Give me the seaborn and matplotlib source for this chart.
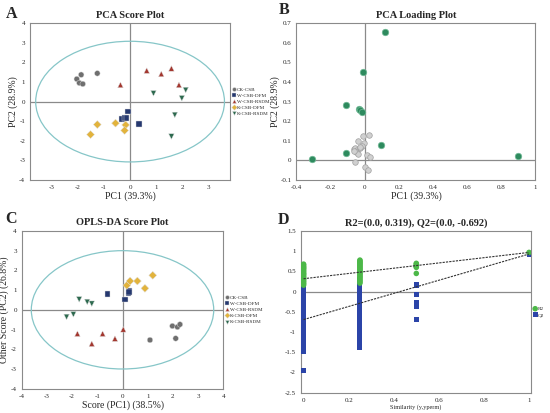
""" Recreates the PCA / OPLS-DA multi-panel figure. """

import matplotlib as mpl
mpl.use("Agg")
import matplotlib.pyplot as plt
from matplotlib.patches import Ellipse
from matplotlib.ticker import FuncFormatter
import numpy as np
import pandas as pd
import seaborn as sns

# ---- data -------------------------------------------------------------
groups = ["CK-CSB", "W-CSB-DFM", "W-CSB-RSDM", "K-CSB-DFM", "K-CSB-RSDM"]

# Panel A: PCA scores (5 samples per group)
pca_pc1 = {
    "CK-CSB": [-2.05, -1.88, -1.95, -1.82, -1.26],
    "W-CSB-DFM": [-0.07, -0.30, -0.21, -0.13, 0.34],
    "W-CSB-RSDM": [-0.37, 0.64, 1.20, 1.59, 1.88],
    "K-CSB-DFM": [-1.52, -1.26, -0.56, -0.17, -0.21],
    "K-CSB-RSDM": [0.90, 2.14, 1.99, 1.72, 1.59],
}
pca_pc2 = {
    "CK-CSB": [1.15, 1.37, 0.95, 0.90, 1.44],
    "W-CSB-DFM": [-0.51, -0.88, -0.83, -0.85, -1.14],
    "W-CSB-RSDM": [0.85, 1.58, 1.41, 1.69, 0.85],
    "K-CSB-DFM": [-1.68, -1.17, -1.10, -1.19, -1.47],
    "K-CSB-RSDM": [0.42, 0.59, 0.17, -0.68, -1.78],
}

# Panel B: PCA loadings
load_sig_x = [0.12, -0.01, -0.11, -0.035, -0.025, -0.015, 0.095, -0.11, -0.31, 0.90]
load_sig_y = [0.655, 0.452, 0.282, 0.262, 0.255, 0.249, 0.078, 0.040, 0.005, 0.022]
load_other_x = [0.025, -0.01, -0.04, -0.005, -0.015, -0.065, -0.055, -0.045, -0.03,
                -0.05, -0.04, -0.025, 0.015, 0.03, -0.055, 0.0, 0.02, -0.06]
load_other_y = [0.130, 0.125, 0.100, 0.090, 0.075, 0.060, 0.062, 0.055, 0.065,
                0.045, 0.035, 0.070, 0.028, 0.018, -0.010, -0.035, -0.048, 0.050]

# Panel C: OPLS-DA scores
opls_t1 = {
    "CK-CSB": [1.09, 2.11, 1.98, 2.18, 2.28],
    "W-CSB-DFM": [-0.59, 0.10, 0.23, 0.27, 0.25],
    "W-CSB-RSDM": [-1.79, -1.22, -0.79, -0.30, 0.03],
    "K-CSB-DFM": [0.17, 0.30, 0.59, 0.89, 1.20],
    "K-CSB-RSDM": [-2.22, -1.95, -1.72, -1.40, -1.22],
}
opls_to = {
    "CK-CSB": [-1.53, -1.45, -0.82, -0.87, -0.74],
    "W-CSB-DFM": [0.79, 0.53, 0.84, 0.96, 0.90],
    "W-CSB-RSDM": [-1.21, -1.72, -1.21, -1.46, -0.99],
    "K-CSB-DFM": [1.24, 1.46, 1.46, 1.09, 1.75],
    "K-CSB-RSDM": [-0.36, -0.23, 0.53, 0.40, 0.31],
}

# Panel D: permutation test
perm_r2 = {
    0.0: [0.68, 0.66, 0.63, 0.61, 0.59, 0.57, 0.55, 0.52, 0.50, 0.47, 0.45, 0.43,
          0.41, 0.38, 0.36, 0.33, 0.31, 0.29, 0.26, 0.24, 0.21, 0.19, 0.16],
    0.25: [0.78, 0.76, 0.73, 0.71, 0.69, 0.66, 0.64, 0.61, 0.59, 0.56, 0.54, 0.51,
           0.49, 0.46, 0.44, 0.41, 0.38, 0.36, 0.33, 0.30, 0.27, 0.24, 0.21],
    0.5: [0.70, 0.68, 0.65, 0.62, 0.60, 0.45],
    1.0: [0.97],
}
perm_q2 = {
    0.0: [0.12, 0.05, -0.03, -0.10, -0.18, -0.25, -0.33, -0.40, -0.47, -0.55,
          -0.62, -0.70, -0.77, -0.85, -0.92, -1.00, -1.07, -1.14, -1.20,
          -1.33, -1.38, -1.43, -1.49, -1.95],
    0.25: [0.30, 0.23, 0.16, 0.09, 0.02, -0.06, -0.13, -0.20, -0.28, -0.35,
           -0.42, -0.50, -0.57, -0.64, -0.72, -0.79, -0.86, -0.94, -1.01,
           -1.08, -1.16, -1.23, -1.30, -1.37],
    0.5: [0.18, 0.14, -0.07, -0.27, -0.38, -0.69],
    1.0: [0.93],
}
r2_intercept = 0.319
q2_intercept = -0.692

palette = {"CK-CSB": "#6f6f6f", "W-CSB-DFM": "#25386f", "W-CSB-RSDM": "#a3372f",
           "K-CSB-DFM": "#e2b33c", "K-CSB-RSDM": "#2d6a4f"}
markers = {"CK-CSB": "o", "W-CSB-DFM": "s", "W-CSB-RSDM": "^",
           "K-CSB-DFM": "D", "K-CSB-RSDM": "v"}


def to_frame(xs, ys):
    rows = []
    for g in groups:
        for x, y in zip(xs[g], ys[g]):
            rows.append({"x": x, "y": y, "group": g})
    return pd.DataFrame.from_records(rows)


def style_axes(ax, xlim, ylim, xticks, yticks, vline=True):
    ax.set_xlim(*xlim)
    ax.set_ylim(*ylim)
    ax.set_xticks(xticks)
    ax.set_yticks(yticks)
    fmt = FuncFormatter(lambda v, _: f"{v:g}")
    ax.xaxis.set_major_formatter(fmt)
    ax.yaxis.set_major_formatter(fmt)
    ax.tick_params(labelsize=5, length=2, width=0.6, color="#808080", pad=1.5)
    for s in ax.spines.values():
        s.set_color("#8a8a8a")
        s.set_linewidth(0.8)
    ax.axhline(0, color="#8a8a8a", lw=0.9, zorder=0)
    if vline:
        ax.axvline(0, color="#8a8a8a", lw=0.9, zorder=0)


def small_legend(ax, handles=None, labels=None, markerscale=0.7):
    kw = dict(loc="center left", bbox_to_anchor=(1.0, 0.5), frameon=False,
              fontsize=3.7, markerscale=markerscale, handletextpad=0.05,
              labelspacing=0.3, borderpad=0.1, borderaxespad=0.2, handlelength=0.9)
    if handles is None:
        sns.move_legend(ax, title=None, **kw)
    else:
        ax.legend(handles, labels, **kw)


def score_panel(ax, df, ell_w, ell_h):
    sns.scatterplot(data=df, x="x", y="y", hue="group", style="group",
                    palette=palette, markers=markers, hue_order=groups,
                    style_order=groups, s=16, linewidth=0.3, edgecolor="#dddddd",
                    ax=ax, zorder=3)
    ax.add_patch(Ellipse((0, 0), ell_w, ell_h, fill=False,
                         edgecolor="#86c6c8", lw=0.9, zorder=1))
    small_legend(ax)


def main():
    sns.set_style("white")
    plt.rcParams["font.family"] = ["Liberation Serif", "DejaVu Serif"]
    plt.rcParams["axes.unicode_minus"] = False

    fig = plt.figure(figsize=(5.5, 4.13), dpi=100)

    # ---- A
    ax_a = fig.add_axes([0.0545, 0.564, 0.364, 0.380])
    score_panel(ax_a, to_frame(pca_pc1, pca_pc2), 7.26, 6.15)
    style_axes(ax_a, (-3.85, 3.85), (-4, 4), range(-3, 4), range(-4, 5))
    ax_a.set_xlabel("PC1 (39.3%)", fontsize=7, labelpad=1)
    ax_a.set_ylabel("PC2 (28.9%)", fontsize=7, labelpad=1)
    ax_a.set_title("PCA Score Plot", fontsize=7.5, fontweight="bold", pad=4)

    # ---- B
    ax_b = fig.add_axes([0.539, 0.564, 0.4345, 0.380])
    sns.scatterplot(x=load_other_x, y=load_other_y, color="#d0d0d0", edgecolor="#a0a0a0",
                    linewidth=0.5, s=16, ax=ax_b, zorder=3)
    sns.scatterplot(x=load_sig_x, y=load_sig_y, color="#2e8a5e", edgecolor="#6fb995",
                    linewidth=0.5, s=22, ax=ax_b, zorder=4)
    style_axes(ax_b, (-0.4, 1.0), (-0.1, 0.7), np.arange(-0.4, 1.01, 0.2),
               np.arange(-0.1, 0.71, 0.1))
    ax_b.set_xlabel("PC1 (39.3%)", fontsize=7, labelpad=1)
    ax_b.set_ylabel("PC2 (28.9%)", fontsize=7, labelpad=0)
    ax_b.set_title("PCA Loading Plot", fontsize=7.5, fontweight="bold", pad=4)

    # ---- C
    ax_c = fig.add_axes([0.0395, 0.0588, 0.3665, 0.382])
    score_panel(ax_c, to_frame(opls_t1, opls_to), 7.24, 6.0)
    style_axes(ax_c, (-4, 4), (-4, 4), range(-4, 5), range(-4, 5))
    ax_c.set_xlabel("Score (PC1) (38.5%)", fontsize=7, labelpad=1)
    ax_c.set_ylabel("Other Score (PC2) (26.8%)", fontsize=7, labelpad=1)
    ax_c.set_title("OPLS-DA Score Plot", fontsize=7.5, fontweight="bold", pad=4)

    # ---- D
    ax_d = fig.add_axes([0.547, 0.0492, 0.419, 0.3915])
    r2 = pd.DataFrame([(k, v) for k, vals in perm_r2.items() for v in vals], columns=["x", "y"])
    q2 = pd.DataFrame([(k, v) for k, vals in perm_q2.items() for v in vals], columns=["x", "y"])
    sns.scatterplot(data=q2, x="x", y="y", marker="s", color="#2b44a8", edgecolor="none",
                    s=13, ax=ax_d, zorder=3, label="Q2")
    sns.scatterplot(data=r2, x="x", y="y", marker="o", color="#4cb848", edgecolor="none",
                    s=16, ax=ax_d, zorder=4, label="R2")
    ax_d.plot([0, 1], [r2_intercept, perm_r2[1.0][0]], ls=(0, (2, 1)), color="#333333",
              lw=0.8, zorder=5)
    ax_d.plot([0, 1], [q2_intercept, perm_q2[1.0][0]], ls=(0, (2, 1)), color="#333333",
              lw=0.8, zorder=5)
    style_axes(ax_d, (-0.012, 1.01), (-2.5, 1.5), np.arange(0, 1.01, 0.2),
               np.arange(-2.5, 1.51, 0.5), vline=False)
    handles, labels = ax_d.get_legend_handles_labels()
    small_legend(ax_d, handles[::-1], labels[::-1], markerscale=1.0)
    ax_d.set_xlabel("Similarity (y,yperm)", fontsize=4.5, labelpad=1)
    ax_d.set_ylabel("")
    ax_d.set_title("R2=(0.0, 0.319), Q2=(0.0, -0.692)", fontsize=7.5, fontweight="bold", pad=4)

    # panel letters
    for x, y, letter in [(0.010, 0.985, "A"), (0.506, 0.995, "B"),
                         (0.010, 0.490, "C"), (0.505, 0.486, "D")]:
        fig.text(x, y, letter, fontsize=11.5, fontweight="bold", va="top")

    fig.savefig("out.png", dpi=100)
    return 1


if __name__ == "__main__":
    main()
